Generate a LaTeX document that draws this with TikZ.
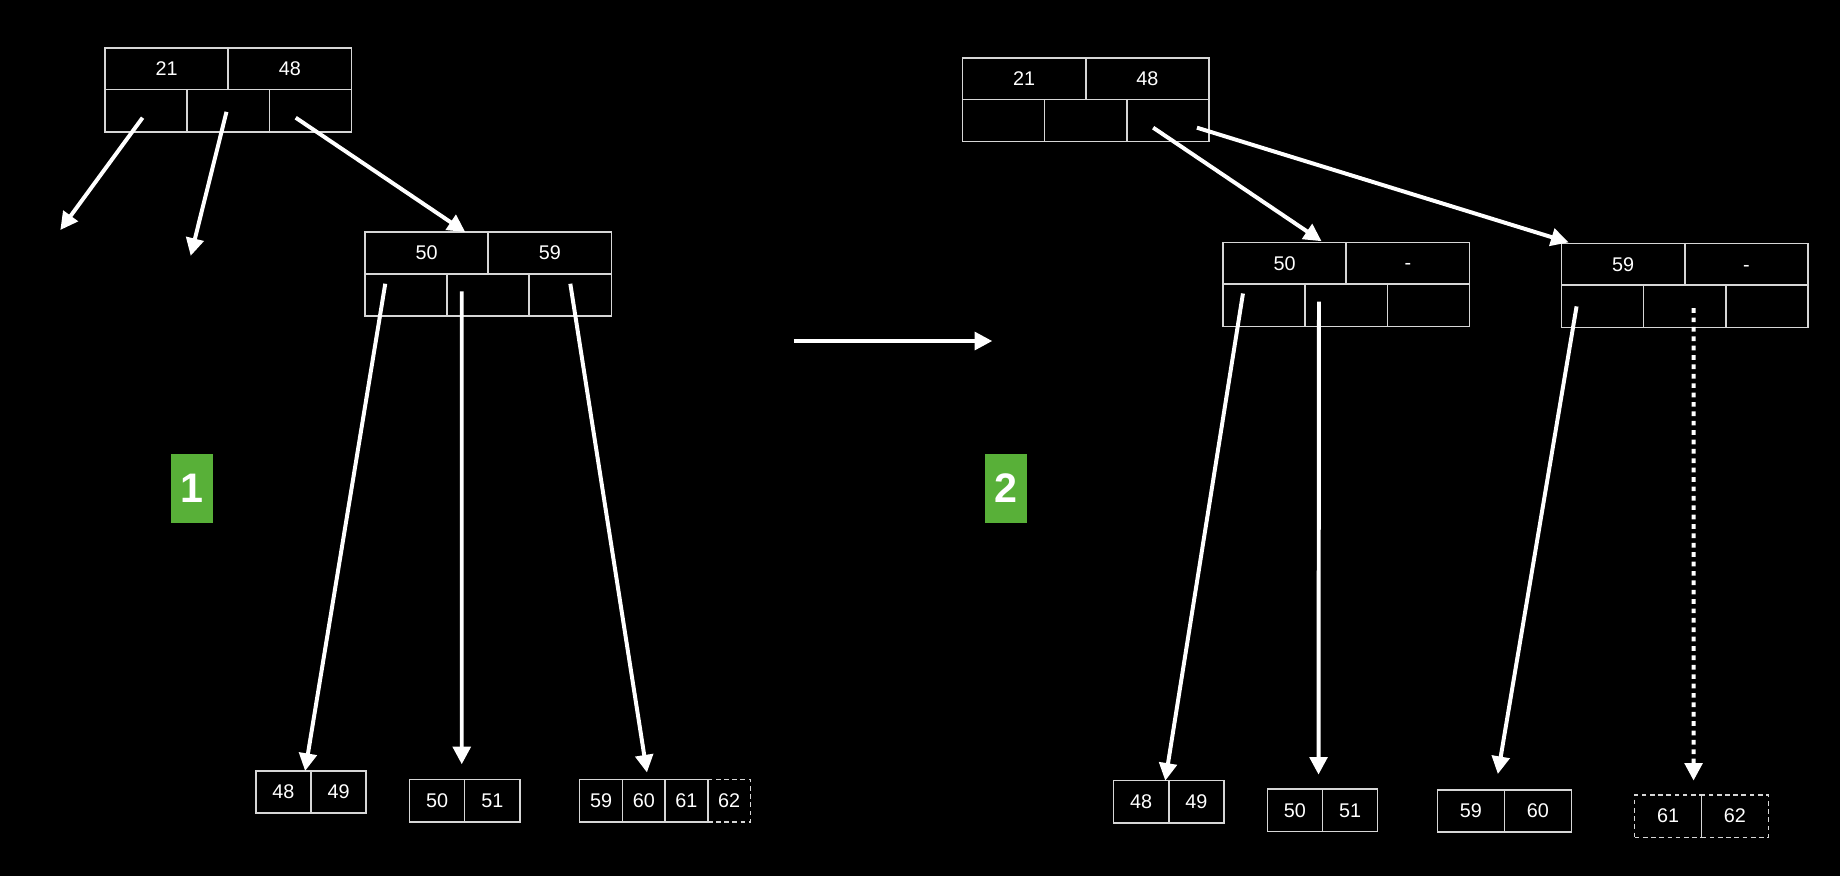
\documentclass[tikz,border=0pt]{standalone}
\usepackage{fontspec}
\setmainfont{Liberation Sans}
\usepackage{tikz}
\usetikzlibrary{arrows.meta}
\definecolor{cellgray}{RGB}{214,214,214}
\definecolor{stepgreen}{RGB}{88,176,56}

\begin{document}
\begin{tikzpicture}[
		x=0.05cm, y=-0.05cm,
		every node/.style={rectangle, inner sep=0pt, outer sep=0pt, text=white, font=\fontsize{24}{28}\selectfont},
		keycell/.style={draw=cellgray, line width=1.8pt, minimum width=5.25cm, minimum height=1.775cm},
		ptrcell/.style={draw=cellgray, line width=1.8pt, minimum width=3.5cm, minimum height=1.8cm},
		leafcell/.style={draw=cellgray, line width=1.8pt, minimum width=2.35cm, minimum height=1.8cm},
		newcell/.style={dash pattern=on 0.2cm off 0.15cm},
		ptr/.style={white, line width=4.8pt, -{Triangle[length=0.75cm, width=0.75cm]}},
		stepbadge/.style={fill=stepgreen, minimum width=1.79cm, minimum height=2.925cm, font=\fontsize{50}{56}\selectfont\bfseries}
	]
  \fill [black] (0, 0) rectangle (1568, 746.5);

  \node (l_root_k0) [keycell] at (142, 58.5) {21};
  \node (l_root_k1) [keycell] at (247, 58.5) {48};
  \node (l_root_p0) [ptrcell] at (124.5, 94.3) {};
  \node (l_root_p1) [ptrcell] at (194.5, 94.3) {};
  \node (l_root_p2) [ptrcell] at (264.5, 94.3) {};
  \node (l_mid_k0) [keycell] at (363.5, 215.5) {50};
  \node (l_mid_k1) [keycell] at (468.5, 215.5) {59};
  \node (l_mid_p0) [ptrcell] at (346, 251.3) {};
  \node (l_mid_p1) [ptrcell] at (416, 251.3) {};
  \node (l_mid_p2) [ptrcell] at (486, 251.3) {};
  \node (l_leaf0_a) [leafcell] at (241.5, 675) {48};
  \node (l_leaf0_b) [leafcell] at (288.5, 675) {49};
  \node (l_leaf1_a) [leafcell] at (372.5, 682.3) {50};
  \node (l_leaf1_b) [leafcell] at (419.5, 682.3) {51};
  \node (l_leaf2_d) [leafcell, minimum width=1.82cm, newcell] at (621.4, 682.3) {62};
  \node (l_leaf2_a) [leafcell, minimum width=1.82cm] at (512.2, 682.3) {59};
  \node (l_leaf2_b) [leafcell, minimum width=1.82cm] at (548.6, 682.3) {60};
  \node (l_leaf2_c) [leafcell, minimum width=1.82cm] at (585, 682.3) {61};
  \coordinate (l_out0) at (51.4, 196);
  \coordinate (l_out1) at (162.5, 218);
  \draw [ptr] ([shift={(-3,6)}]l_root_p0.center) -- (l_out0);
  \draw [ptr] ([shift={(-1.5,1)}]l_root_p1.center) -- (l_out1);
  \draw [ptr] ([shift={(-12.5,6)}]l_root_p2.center) -- ([shift={(-19.5,0)}]l_mid_k0.north east);
  \draw [ptr] ([shift={(-17.7,-9.5)}]l_mid_p0.center) -- ([shift={(-5,0)}]l_leaf0_a.north east);
  \draw [ptr] ([shift={(-22.5,-3)}]l_mid_p1.center) -- ([shift={(-2.5,-13)}]l_leaf1_a.north east);
  \draw [ptr] ([shift={(0,-9.5)}]l_mid_p2.center) -- ([shift={(2.7,-6)}]l_leaf2_b.north);

  \coordinate (go_from) at (676.6, 290.6);
  \coordinate (go_to) at (845.6, 290.6);
  \draw [ptr] (go_from) -- (go_to);
  \node (step_1) [stepbadge] at (163.6, 416.2) {1};
  \node (step_2) [stepbadge] at (857.3, 416.2) {2};

  \node (r_root_k0) [keycell] at (872.8, 67) {21};
  \node (r_root_k1) [keycell] at (977.8, 67) {48};
  \node (r_root_p0) [ptrcell] at (855.3, 102.8) {};
  \node (r_root_p1) [ptrcell] at (925.3, 102.8) {};
  \node (r_root_p2) [ptrcell] at (995.3, 102.8) {};
  \node (r_a_k0) [keycell] at (1094.7, 224.3) {50};
  \node (r_a_k1) [keycell] at (1199.7, 224.3) {\vphantom{5}-};
  \node (r_a_p0) [ptrcell] at (1077.2, 260.1) {};
  \node (r_a_p1) [ptrcell] at (1147.2, 260.1) {};
  \node (r_a_p2) [ptrcell] at (1217.2, 260.1) {};
  \node (r_b_k0) [keycell] at (1383.2, 225.3) {59};
  \node (r_b_k1) [keycell] at (1488.2, 225.3) {\vphantom{5}-};
  \node (r_b_p0) [ptrcell] at (1365.7, 261.1) {};
  \node (r_b_p1) [ptrcell] at (1435.7, 261.1) {};
  \node (r_b_p2) [ptrcell] at (1505.7, 261.1) {};
  \node (r_leaf0_a) [leafcell] at (972.5, 683.3) {48};
  \node (r_leaf0_b) [leafcell] at (1019.5, 683.3) {49};
  \node (r_leaf1_a) [leafcell] at (1103.5, 690.5) {50};
  \node (r_leaf1_b) [leafcell] at (1150.5, 690.5) {51};
  \node (r_leaf2_a) [leafcell, minimum width=2.85cm] at (1253.5, 691) {59};
  \node (r_leaf2_b) [leafcell, minimum width=2.85cm] at (1310.5, 691) {60};
  \node (r_leaf3_a) [leafcell, minimum width=2.85cm, newcell] at (1421.5, 695.5) {61};
  \node (r_leaf3_b) [leafcell, minimum width=2.85cm, newcell] at (1478.5, 695.5) {62};
  \draw [cellgray, line width=1.8pt] (r_leaf3_a.north east) -- (r_leaf3_a.south east);
  \draw [ptr] ([shift={(-12.6,6)}]r_root_p2.center) -- ([shift={(-21,-1)}]r_a_k0.north east);
  \draw [ptr] ([shift={(24.7,6)}]r_root_p2.center) -- ([shift={(6,-1)}]r_b_k0.north west);
  \draw [ptr] ([shift={(-18,-10)}]r_a_p0.center) -- ([shift={(-3,0)}]r_leaf0_a.north east);
  \draw [ptr] ([shift={(-23.2,-3)}]r_a_p1.center) -- ([shift={(-3.4,-12.4)}]r_leaf1_a.north east);
  \draw [ptr] ([shift={(-22.2,0)}]r_b_p0.center) -- ([shift={(-5.6,-13.4)}]r_leaf2_a.north east);
  \draw [ptr, dash pattern=on 0.2cm off 0.2cm] ([shift={(7.5,1.5)}]r_b_p1.center) -- ([shift={(-6.8,-12.3)}]r_leaf3_a.north east);
\end{tikzpicture}
\end{document}
